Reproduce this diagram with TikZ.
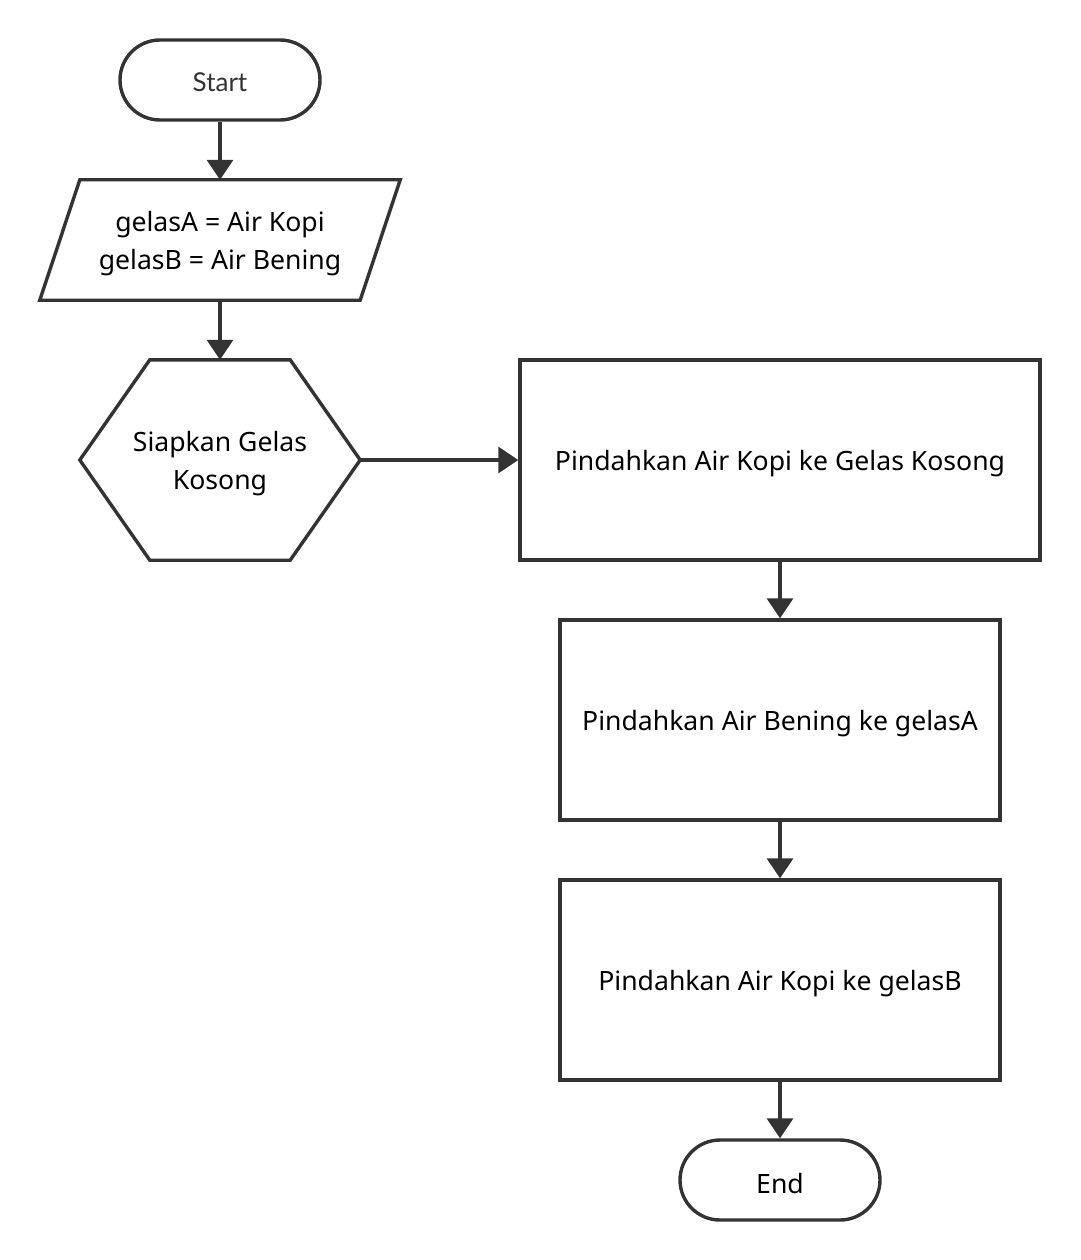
\documentclass[tikz,border=0pt]{standalone}
\usepackage{fontspec}
\setmainfont{Noto Sans}
\newfontfamily\latofont{Lato}
\usetikzlibrary{arrows.meta,shapes.misc}
\definecolor{ln}{HTML}{333333}
\begin{document}
\begin{tikzpicture}[x=1pt,y=-1pt,
  every node/.style={font=\fontsize{26.6}{38}\selectfont},
  term/.style={rounded rectangle, draw=ln, line width=3.4pt, minimum width=200pt, minimum height=80pt, inner sep=0pt},
  procbox/.style={rectangle, draw=ln, line width=3.4pt, inner sep=0pt},
  frame/.style={rectangle, inner sep=0pt},
  txt/.style={label={[align=center, inner sep=0pt, yshift=-4pt]center:#1}},
  outline/.style={draw=ln, line width=3.4pt, line join=miter},
  conn/.style={draw=ln, line width=3.4pt, -{Triangle[width=26pt,length=20pt]}}]
\useasboundingbox[fill=white] (0,0) rectangle (1080,1260);

\node[term, label={[text=ln, inner sep=0pt, yshift=-2pt, font=\latofont\fontsize{26}{38}\selectfont]center:Start}] (start) at (220,80) {};

\node[frame, minimum width=360pt, minimum height=120pt, txt={gelasA = Air Kopi\\gelasB = Air Bening}] (par) at (220,240) {};
\draw[outline] ([xshift=40pt]par.north west) -- (par.north east) -- ([xshift=-40pt]par.south east) -- (par.south west) -- cycle;

\node[frame, minimum width=280pt, minimum height=200pt, txt={Siapkan Gelas\\Kosong}] (hex) at (220,460) {};
\draw[outline] ([xshift=70pt]hex.north west) -- ([xshift=-70pt]hex.north east) -- (hex.east) -- ([xshift=-70pt]hex.south east) -- ([xshift=70pt]hex.south west) -- (hex.west) -- cycle;

\node[procbox, minimum width=520pt, minimum height=200pt, txt={Pindahkan Air Kopi ke Gelas Kosong}] (p1) at (780,460) {};
\node[procbox, minimum width=440pt, minimum height=200pt, txt={Pindahkan Air Bening ke gelasA}] (p2) at (780,720) {};
\node[procbox, minimum width=440pt, minimum height=200pt, txt={Pindahkan Air Kopi ke gelasB}] (p3) at (780,980) {};

\node[term, txt={End}] (end) at (780,1180) {};

\draw[conn] (start.south) -- (par.north);
\draw[conn] (par.south) -- (hex.north);
\draw[conn] (hex.east) -- (p1.west);
\draw[conn] (p1.south) -- (p2.north);
\draw[conn] (p2.south) -- (p3.north);
\draw[conn] (p3.south) -- (end.north);
\end{tikzpicture}
\end{document}
